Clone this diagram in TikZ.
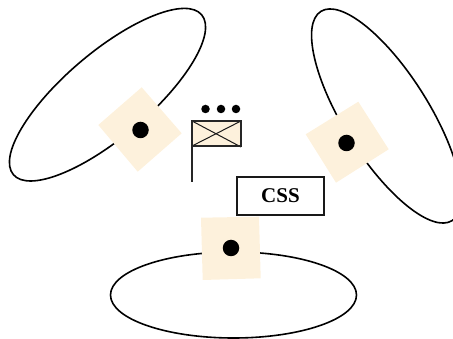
\documentclass[tikz,border=0pt]{standalone}
\usepackage{fontspec}
\setmainfont{Liberation Serif}
\definecolor{padc}{HTML}{FDF1DC}
\tikzset{
  orbit/.style={draw=black,line width=1.6pt,fill=none},
  pad/.style={fill=padc,draw=none},
  bigdot/.style={circle,fill=black,draw=none,inner sep=0pt,minimum size=16.5pt},
  smalldot/.style={circle,fill=black,draw=none,inner sep=0pt,minimum size=8.5pt},
  flagline/.style={draw=black!85,line width=1.8pt},
  crossline/.style={draw=black!90,line width=1pt},
  cssbox/.style={draw=black!90,line width=1.2pt,fill=white,minimum width=87pt,minimum height=38pt,inner sep=0pt,font=\fontsize{21}{24}\selectfont\bfseries}
}
\begin{document}
\begin{tikzpicture}[x=1pt,y=-1pt]
\useasboundingbox (0,0) rectangle (453,339);
\draw[orbit,rotate around={40.35:(107.5,94.7)}] (107.5,94.7) ellipse [x radius=123.5,y radius=42.5];
\draw[orbit,rotate around={-57.9:(386.5,116)}] (386.5,116) ellipse [x radius=123.5,y radius=42.7];
\draw[orbit] (233.5,295) ellipse [x radius=123,y radius=43];
\fill[pad] (141.7,87.3) -- (181.7,133.3) -- (137.7,171.7) -- (98.3,125) -- cycle;
\fill[pad] (358.3,101.7) -- (388.7,149.3) -- (336,182.7) -- (305.7,134.3) -- cycle;
\fill[pad] (201,217.7) -- (259,216.7) -- (260.7,278.3) -- (202.7,280) -- cycle;
\node[bigdot] (d1) at (140.5,130) {};
\node[bigdot] (d2) at (346.5,143) {};
\node[bigdot] (d3) at (231,248) {};
\node[smalldot] (s1) at (205.5,109) {};
\node[smalldot] (s2) at (221,109) {};
\node[smalldot] (s3) at (236,109) {};
\fill[padc] (192,121) rectangle (241,146);
\draw[crossline] (192,121) -- (241,147);
\draw[crossline] (241,121) -- (192,146);
\draw[flagline] (192,182) -- (192,121) -- (241,121) -- (241,147);
\draw[flagline] (192,146) -- (241,146);
\node[cssbox] (css) at (280.5,196) {CSS};
\end{tikzpicture}
\end{document}
